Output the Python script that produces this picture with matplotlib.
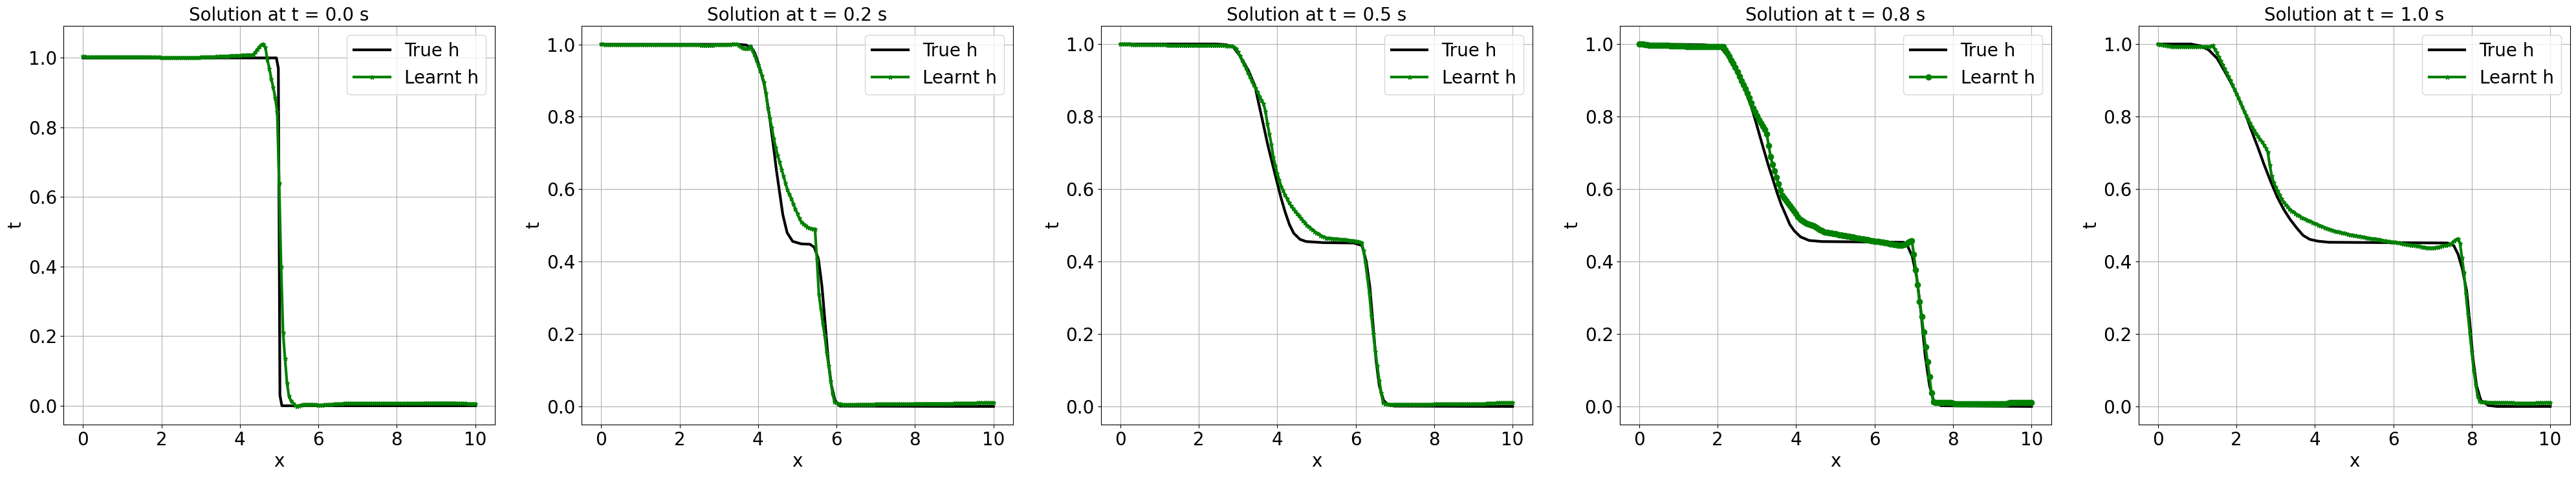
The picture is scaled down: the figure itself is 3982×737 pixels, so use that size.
import numpy as np
import matplotlib
matplotlib.use("Agg")
import matplotlib.pyplot as plt

times = [0.0, 0.2, 0.5, 0.8, 1.0]
markers = ['*', '*', '*', 'o', '*']
marker_sizes = [5, 5, 5, 6, 5]

# true h, read at break points
true_x_0 = [0, 4.93, 4.98, 5.02, 5.07, 10]
true_h_0 = [1.0, 1.0, 0.97, 0.03, 0.0, 0.0]

true_x_1 = [0, 3.5, 3.7, 3.84, 3.92, 4.0, 4.08, 4.165, 4.28, 4.39, 4.47, 4.55, 4.63,
            4.74, 4.88, 5.1, 5.32, 5.43, 5.54, 5.63, 5.71, 5.79, 5.87, 5.96, 6.09, 10]
true_h_1 = [1.0, 1.0, 0.998, 0.99, 0.975, 0.95, 0.92, 0.885, 0.81, 0.72, 0.65, 0.59, 0.53,
            0.48, 0.456, 0.449, 0.448, 0.44, 0.407, 0.33, 0.229, 0.126, 0.058, 0.017, 0.001, 0.0]

true_x_2 = [0, 2.45, 2.7, 2.885, 3.05, 3.27, 3.43, 3.54, 3.65, 3.76, 3.87, 3.98, 4.09, 4.2,
            4.31, 4.42, 4.58, 4.74, 5.18, 5.95, 6.16, 6.27, 6.36, 6.44, 6.52, 6.6, 6.71,
            6.82, 6.98, 10]
true_h_2 = [1.0, 1.0, 0.998, 0.991, 0.967, 0.926, 0.885, 0.83, 0.776, 0.721, 0.673, 0.625,
            0.578, 0.537, 0.502, 0.478, 0.461, 0.455, 0.452, 0.451, 0.444, 0.4, 0.331, 0.229,
            0.126, 0.058, 0.017, 0.005, 0.001, 0.0]

true_x_3 = [0, 1.6, 1.92, 2.1, 2.25, 2.47, 2.68, 2.85, 2.96, 3.07, 3.18, 3.29, 3.4, 3.51,
            3.62, 3.73, 3.84, 3.95, 4.11, 4.33, 4.66, 6.74, 6.85, 6.96, 7.07, 7.18, 7.29,
            7.4, 7.51, 7.7, 10]
true_h_3 = [1.0, 0.998, 0.995, 0.988, 0.967, 0.926, 0.878, 0.83, 0.79, 0.748, 0.707, 0.666,
            0.629, 0.591, 0.557, 0.53, 0.502, 0.485, 0.468, 0.458, 0.455, 0.453, 0.441,
            0.414, 0.359, 0.263, 0.14, 0.058, 0.014, 0.002, 0.0]

true_x_4 = [0, 0.84, 1.07, 1.29, 1.51, 1.73, 2.0, 2.22, 2.38, 2.55, 2.71, 2.88, 3.04, 3.21,
            3.37, 3.54, 3.7, 3.87, 4.08, 4.36, 7.38, 7.54, 7.65, 7.76, 7.87, 7.95, 8.03,
            8.12, 8.23, 8.42, 8.64, 10]
true_h_4 = [1.0, 1.0, 0.995, 0.984, 0.96, 0.919, 0.865, 0.81, 0.762, 0.714, 0.666, 0.619,
            0.578, 0.543, 0.516, 0.492, 0.472, 0.461, 0.456, 0.453, 0.451, 0.444, 0.42,
            0.379, 0.318, 0.229, 0.133, 0.058, 0.017, 0.003, 0.0, 0.0]

# learnt h, one value every 0.05 in x (rows of 10)
learnt_h_0 = [
    1.004, 1.004, 1.003, 1.003, 1.003, 1.003, 1.003, 1.003, 1.003, 1.003,
    1.003, 1.003, 1.003, 1.003, 1.003, 1.003, 1.003, 1.003, 1.003, 1.003,
    1.003, 1.003, 1.003, 1.003, 1.003, 1.003, 1.003, 1.003, 1.003, 1.003,
    1.003, 1.003, 1.003, 1.003, 1.003, 1.002, 1.002, 1.002, 1.002, 1.002,
    1.001, 1.001, 1.001, 1.001, 1.001, 1.001, 1.001, 1.001, 1.001, 1.001,
    1.001, 1.001, 1.001, 1.001, 1.001, 1.001, 1.001, 1.001, 1.001, 1.001,
    1.002, 1.002, 1.003, 1.003, 1.003, 1.003, 1.003, 1.003, 1.004, 1.004,
    1.005, 1.005, 1.005, 1.005, 1.005, 1.006, 1.006, 1.006, 1.007, 1.007,
    1.007, 1.008, 1.008, 1.008, 1.009, 1.009, 1.008, 1.011, 1.018, 1.026,
    1.032, 1.038, 1.04, 1.03, 0.995, 0.97, 0.94, 0.915, 0.886, 0.845,
    0.64, 0.40, 0.21, 0.135, 0.065, 0.028, 0.015, 0.008, 0.002, -0.002,
    0.0, 0.002, 0.003, 0.004, 0.004, 0.004, 0.004, 0.004, 0.003, 0.003,
    0.002, 0.002, 0.002, 0.003, 0.003, 0.004, 0.004, 0.004, 0.005, 0.005,
    0.005, 0.006, 0.006, 0.007, 0.007, 0.007, 0.007, 0.007, 0.007, 0.007,
    0.007, 0.007, 0.007, 0.007, 0.007, 0.007, 0.007, 0.007, 0.007, 0.007,
    0.007, 0.007, 0.007, 0.007, 0.007, 0.007, 0.007, 0.007, 0.007, 0.007,
    0.007, 0.007, 0.007, 0.007, 0.007, 0.007, 0.007, 0.007, 0.007, 0.007,
    0.007, 0.007, 0.007, 0.007, 0.008, 0.008, 0.008, 0.008, 0.008, 0.008,
    0.008, 0.008, 0.008, 0.008, 0.008, 0.008, 0.008, 0.008, 0.008, 0.008,
    0.008, 0.007, 0.007, 0.007, 0.007, 0.007, 0.006, 0.006, 0.006, 0.006,
    0.006]

learnt_h_1 = [
    1.001, 1.001, 1.0, 1.0, 1.0, 1.0, 1.0, 1.0, 1.0, 1.0,
    0.999, 0.999, 0.999, 0.999, 0.999, 0.999, 0.999, 0.999, 0.999, 0.999,
    0.999, 0.999, 0.999, 0.999, 0.999, 0.999, 0.999, 0.999, 0.999, 0.999,
    0.999, 0.999, 0.999, 0.999, 0.999, 0.999, 0.999, 0.999, 0.999, 0.999,
    0.999, 0.999, 0.999, 0.999, 0.999, 0.999, 0.999, 0.999, 0.999, 0.999,
    0.999, 0.998, 0.997, 0.997, 0.997, 0.997, 0.998, 0.998, 0.999, 0.999,
    0.999, 0.999, 0.999, 0.999, 0.999, 1.0, 1.0, 1.001, 1.001, 1.001,
    0.998, 0.994, 0.99, 0.989, 0.989, 0.989, 0.995, 0.985, 0.972, 0.958,
    0.943, 0.928, 0.914, 0.895, 0.866, 0.824, 0.796, 0.77, 0.74, 0.715,
    0.694, 0.675, 0.655, 0.636, 0.617, 0.598, 0.586, 0.574, 0.56, 0.546,
    0.533, 0.52, 0.51, 0.504, 0.5, 0.496, 0.493, 0.491, 0.49, 0.49,
    0.405, 0.31, 0.27, 0.229, 0.195, 0.148, 0.112, 0.07, 0.035, 0.012,
    0.01, 0.008, 0.007, 0.006, 0.005, 0.005, 0.005, 0.005, 0.005, 0.005,
    0.005, 0.006, 0.006, 0.006, 0.006, 0.006, 0.006, 0.006, 0.006, 0.006,
    0.007, 0.007, 0.007, 0.007, 0.007, 0.007, 0.007, 0.007, 0.007, 0.007,
    0.007, 0.007, 0.007, 0.007, 0.007, 0.007, 0.007, 0.007, 0.007, 0.007,
    0.008, 0.008, 0.008, 0.008, 0.008, 0.008, 0.008, 0.008, 0.008, 0.008,
    0.008, 0.008, 0.008, 0.008, 0.008, 0.008, 0.008, 0.008, 0.008, 0.008,
    0.009, 0.009, 0.009, 0.009, 0.009, 0.009, 0.009, 0.009, 0.009, 0.009,
    0.009, 0.009, 0.01, 0.01, 0.01, 0.01, 0.01, 0.01, 0.01, 0.01,
    0.01]

learnt_h_2 = [
    1.0, 1.0, 1.0, 1.0, 1.0, 1.0, 0.999, 0.999, 0.998, 0.998,
    0.998, 0.998, 0.998, 0.998, 0.998, 0.998, 0.998, 0.998, 0.998, 0.998,
    0.998, 0.998, 0.998, 0.998, 0.997, 0.997, 0.996, 0.996, 0.996, 0.996,
    0.996, 0.996, 0.996, 0.996, 0.996, 0.996, 0.996, 0.996, 0.996, 0.996,
    0.996, 0.996, 0.996, 0.996, 0.996, 0.996, 0.996, 0.996, 0.996, 0.996,
    0.996, 0.996, 0.996, 0.996, 0.995, 0.995, 0.994, 0.994, 0.991, 0.988,
    0.978, 0.967, 0.956, 0.944, 0.934, 0.922, 0.91, 0.899, 0.888, 0.878,
    0.867, 0.856, 0.845, 0.835, 0.815, 0.78, 0.752, 0.724, 0.688, 0.665,
    0.643, 0.625, 0.608, 0.596, 0.584, 0.573, 0.562, 0.554, 0.547, 0.539,
    0.533, 0.526, 0.519, 0.513, 0.507, 0.5, 0.496, 0.491, 0.487, 0.483,
    0.479, 0.476, 0.472, 0.469, 0.467, 0.465, 0.464, 0.464, 0.463, 0.463,
    0.462, 0.462, 0.461, 0.461, 0.46, 0.46, 0.459, 0.458, 0.458, 0.457,
    0.456, 0.455, 0.454, 0.452, 0.43, 0.395, 0.355, 0.31, 0.25, 0.2,
    0.152, 0.113, 0.072, 0.038, 0.01, 0.007, 0.007, 0.006, 0.006, 0.006,
    0.006, 0.006, 0.006, 0.006, 0.006, 0.006, 0.006, 0.006, 0.006, 0.006,
    0.006, 0.006, 0.006, 0.006, 0.006, 0.006, 0.006, 0.006, 0.006, 0.006,
    0.007, 0.007, 0.007, 0.007, 0.007, 0.007, 0.007, 0.007, 0.007, 0.007,
    0.007, 0.007, 0.007, 0.007, 0.007, 0.007, 0.007, 0.007, 0.007, 0.007,
    0.007, 0.007, 0.007, 0.007, 0.007, 0.007, 0.008, 0.009, 0.009, 0.009,
    0.009, 0.009, 0.01, 0.01, 0.01, 0.01, 0.01, 0.01, 0.01, 0.01,
    0.01]

learnt_h_3 = [
    1.0, 1.0, 1.0, 0.999, 0.998, 0.997, 0.997, 0.997, 0.997, 0.997,
    0.997, 0.997, 0.996, 0.996, 0.996, 0.996, 0.995, 0.995, 0.995, 0.995,
    0.994, 0.994, 0.994, 0.994, 0.993, 0.993, 0.993, 0.993, 0.993, 0.993,
    0.993, 0.993, 0.993, 0.993, 0.993, 0.993, 0.993, 0.993, 0.993, 0.993,
    0.993, 0.993, 0.993, 0.993, 0.984, 0.975, 0.966, 0.956, 0.946, 0.935,
    0.923, 0.91, 0.898, 0.888, 0.877, 0.864, 0.851, 0.837, 0.824, 0.812,
    0.801, 0.791, 0.782, 0.773, 0.764, 0.752, 0.72, 0.69, 0.667, 0.65,
    0.632, 0.614, 0.597, 0.583, 0.575, 0.567, 0.561, 0.553, 0.546, 0.539,
    0.533, 0.524, 0.516, 0.512, 0.509, 0.506, 0.504, 0.502, 0.5, 0.498,
    0.495, 0.491, 0.488, 0.485, 0.483, 0.481, 0.48, 0.479, 0.478, 0.477,
    0.476, 0.475, 0.474, 0.473, 0.472, 0.471, 0.47, 0.469, 0.468, 0.467,
    0.466, 0.465, 0.464, 0.463, 0.462, 0.461, 0.46, 0.459, 0.458, 0.457,
    0.456, 0.455, 0.455, 0.454, 0.453, 0.452, 0.451, 0.45, 0.449, 0.449,
    0.447, 0.446, 0.445, 0.444, 0.445, 0.446, 0.448, 0.451, 0.456, 0.458,
    0.42, 0.376, 0.335, 0.29, 0.249, 0.205, 0.164, 0.123, 0.082, 0.038,
    0.012, 0.011, 0.01, 0.01, 0.01, 0.01, 0.01, 0.01, 0.01, 0.01,
    0.009, 0.008, 0.007, 0.007, 0.007, 0.007, 0.007, 0.008, 0.008, 0.008,
    0.008, 0.008, 0.008, 0.008, 0.008, 0.008, 0.008, 0.008, 0.008, 0.008,
    0.008, 0.008, 0.008, 0.008, 0.008, 0.008, 0.008, 0.008, 0.009, 0.01,
    0.01, 0.01, 0.01, 0.01, 0.01, 0.01, 0.01, 0.01, 0.01, 0.01,
    0.01]

learnt_h_4 = [
    1.0, 0.999, 0.998, 0.997, 0.996, 0.995, 0.994, 0.993, 0.993, 0.993,
    0.993, 0.993, 0.993, 0.993, 0.993, 0.993, 0.993, 0.993, 0.993, 0.993,
    0.993, 0.993, 0.993, 0.993, 0.993, 0.993, 0.993, 0.994, 0.996, 0.985,
    0.976, 0.965, 0.954, 0.943, 0.932, 0.921, 0.91, 0.9, 0.888, 0.875,
    0.862, 0.851, 0.839, 0.826, 0.815, 0.804, 0.793, 0.782, 0.772, 0.763,
    0.754, 0.746, 0.738, 0.73, 0.722, 0.713, 0.701, 0.666, 0.636, 0.618,
    0.606, 0.595, 0.584, 0.573, 0.565, 0.558, 0.551, 0.545, 0.54, 0.537,
    0.533, 0.529, 0.526, 0.522, 0.519, 0.517, 0.514, 0.512, 0.51, 0.507,
    0.505, 0.503, 0.5, 0.498, 0.496, 0.493, 0.491, 0.489, 0.488, 0.486,
    0.484, 0.483, 0.482, 0.481, 0.479, 0.478, 0.476, 0.475, 0.474, 0.473,
    0.472, 0.471, 0.47, 0.469, 0.468, 0.467, 0.466, 0.465, 0.464, 0.463,
    0.463, 0.462, 0.461, 0.46, 0.459, 0.458, 0.457, 0.456, 0.455, 0.454,
    0.454, 0.453, 0.452, 0.451, 0.45, 0.449, 0.448, 0.447, 0.446, 0.445,
    0.445, 0.444, 0.443, 0.442, 0.441, 0.44, 0.439, 0.438, 0.438, 0.437,
    0.437, 0.438, 0.439, 0.44, 0.441, 0.443, 0.444, 0.445, 0.446, 0.448,
    0.452, 0.457, 0.461, 0.463, 0.45, 0.41, 0.37, 0.31, 0.255, 0.202,
    0.15, 0.1, 0.06, 0.028, 0.014, 0.012, 0.012, 0.012, 0.011, 0.011,
    0.011, 0.011, 0.011, 0.011, 0.011, 0.011, 0.011, 0.011, 0.011, 0.011,
    0.01, 0.01, 0.009, 0.009, 0.009, 0.009, 0.009, 0.009, 0.009, 0.009,
    0.009, 0.009, 0.009, 0.01, 0.01, 0.01, 0.01, 0.01, 0.011, 0.011,
    0.011]

true_x = [true_x_0, true_x_1, true_x_2, true_x_3, true_x_4]
true_h = [true_h_0, true_h_1, true_h_2, true_h_3, true_h_4]
learnt_h = [learnt_h_0, learnt_h_1, learnt_h_2, learnt_h_3, learnt_h_4]

W, H = 3982, 737
fig = plt.figure(figsize=(W / 100, H / 100), dpi=100)
lefts = [98, 899, 1701.5, 2503.6, 3305.5]

for i in range(0, 5):
    ax = fig.add_axes([lefts[i] / W, 81 / H, 667 / W, 616 / H])
    xs = np.linspace(0, 10, len(learnt_h[i]))
    ax.plot(true_x[i], true_h[i], color='black', linewidth=3, label='True h')
    ax.plot(xs, learnt_h[i], color='green', linewidth=3, marker=markers[i],
            markersize=marker_sizes[i], label='Learnt h')
    ax.set_title('Solution at t = %.1f s' % times[i], fontsize=20)
    ax.set_xlabel('x', fontsize=20)
    ax.set_ylabel('t', fontsize=20)
    ax.tick_params(labelsize=20)
    ax.grid(True)
    ax.legend(fontsize=20, loc='upper right')

fig.savefig('out.png', dpi=100)
